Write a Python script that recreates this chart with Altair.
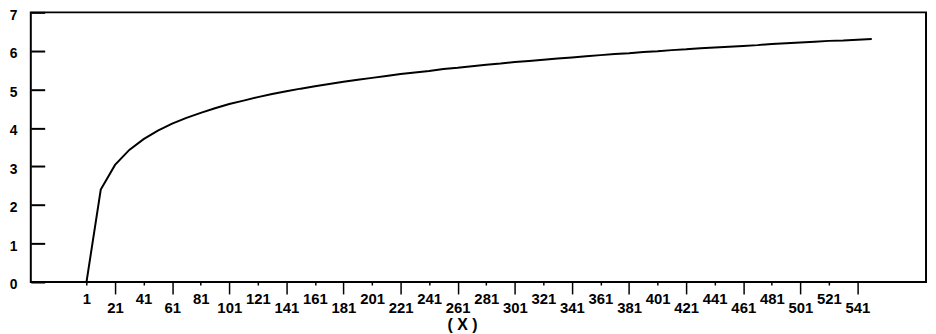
import altair as alt
import pandas as pd

# Curve (x every 10 units)
x_vals = [1, 11, 21, 31, 41, 51, 61, 71, 81, 91, 101, 111, 121, 131, 141, 151,
          161, 171, 181, 191, 201, 211, 221, 231, 241, 251, 261, 271, 281, 291,
          301, 311, 321, 331, 341, 351, 361, 371, 381, 391, 401, 411, 421, 431,
          441, 451, 461, 471, 481, 491, 501, 511, 521, 531, 541, 551]
y_vals = [0.00, 2.40, 3.04, 3.43, 3.71, 3.93, 4.11, 4.26, 4.39, 4.51, 4.62, 4.71,
          4.80, 4.88, 4.95, 5.02, 5.08, 5.14, 5.20, 5.25, 5.30, 5.35, 5.40, 5.44,
          5.48, 5.53, 5.56, 5.60, 5.64, 5.67, 5.71, 5.74, 5.77, 5.80, 5.83, 5.86,
          5.89, 5.92, 5.94, 5.97, 5.99, 6.02, 6.04, 6.07, 6.09, 6.11, 6.13, 6.15,
          6.18, 6.20, 6.22, 6.24, 6.26, 6.27, 6.29, 6.31]

# Tick labels: upper row and lower (staggered) row
x_ticks_upper = [1, 41, 81, 121, 161, 201, 241, 281, 321, 361, 401, 441, 481, 521]
x_ticks_lower = [21, 61, 101, 141, 181, 221, 261, 301, 341, 381, 421, 461, 501, 541]
y_labels = [0, 1, 2, 3, 4, 5, 6, 7]

df = pd.DataFrame({"x": x_vals, "y": y_vals})

FONT = "Liberation Sans"
xscale = alt.Scale(domain=[-38, 589], nice=False, zero=False)
yscale = alt.Scale(domain=[0, 7], nice=False, zero=False)

# y axis moved 14px inside the frame so its ticks sit inside the left edge
yaxis = alt.Axis(orient="left", values=y_labels, tickSize=14, offset=-14,
                 tickColor="black", tickWidth=2, labelPadding=14,
                 domain=False, grid=False, title=None, labelOffset=3,
                 labelFont=FONT, labelFontSize=14, labelFontWeight="bold",
                 labelColor="black", labelFlush=False)

line = alt.Chart(df).mark_line(color="black", strokeWidth=2).encode(
    x=alt.X("x:Q", scale=xscale,
            axis=alt.Axis(orient="bottom", values=x_ticks_upper, tickSize=3,
                          tickColor="black", tickWidth=1.5, labelPadding=7,
                          domain=False, grid=False, title="( X )",
                          titleFont=FONT, titleFontSize=16, titleFontWeight="bold",
                          titleColor="black", titlePadding=10, titleX=435,
                          labelFont=FONT, labelFontSize=15, labelFontWeight="bold",
                          labelColor="black", labelFlush=False)),
    y=alt.Y("y:Q", scale=yscale, axis=yaxis),
)

ticks2 = alt.Chart(df).mark_line(opacity=0).encode(
    x=alt.X("x:Q", scale=xscale,
            axis=alt.Axis(orient="bottom", values=x_ticks_lower, tickSize=12,
                          tickColor="black", tickWidth=1.5, labelPadding=7,
                          domain=False, grid=False, title=None,
                          labelFont=FONT, labelFontSize=15, labelFontWeight="bold",
                          labelColor="black", labelFlush=False)),
    y=alt.Y("y:Q", scale=yscale, axis=None),
)

chart = alt.layer(line, ticks2).resolve_axis(
    x="independent", y="independent"
).properties(
    width=903, height=272,
    autosize=alt.AutoSizeParams(type="none"),
    padding={"left": 23, "top": 3, "right": 2, "bottom": 50},
    background="white",
).configure_view(stroke="black", strokeWidth=2)

chart.save("out.html", embed_options={"renderer": "svg", "actions": False})
